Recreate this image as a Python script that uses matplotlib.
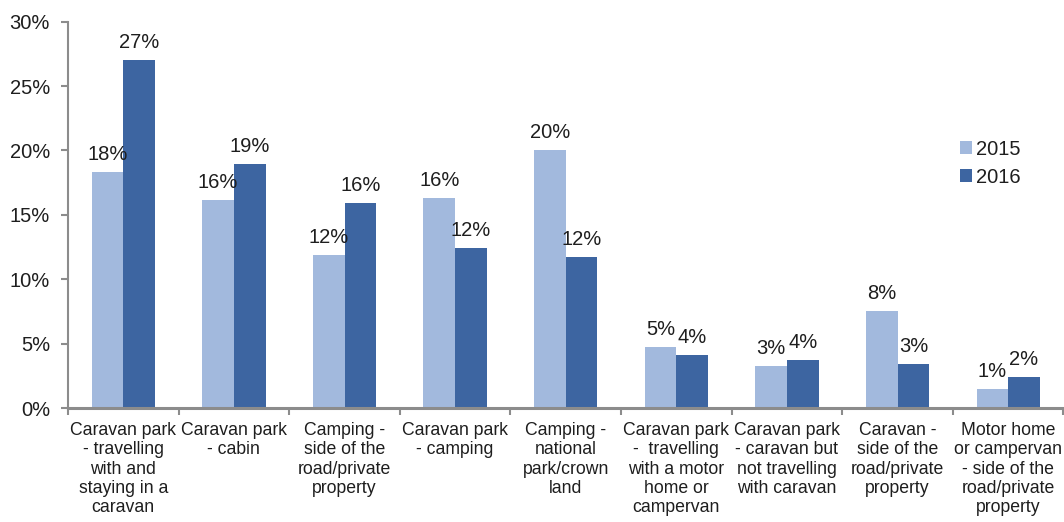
import matplotlib
matplotlib.use("Agg")
import matplotlib.pyplot as plt
import numpy as np
from matplotlib.ticker import FixedLocator, PercentFormatter

categories = [
    "Caravan park\n- travelling\nwith and\nstaying in a\ncaravan",
    "Caravan park\n- cabin",
    "Camping -\nside of the\nroad/private\nproperty",
    "Caravan park\n- camping",
    "Camping -\nnational\npark/crown\nland",
    "Caravan park\n-  travelling\nwith a motor\nhome or\ncampervan",
    "Caravan park\n- caravan but\nnot travelling\nwith caravan",
    "Caravan -\nside of the\nroad/private\nproperty",
    "Motor home\nor campervan\n- side of the\nroad/private\nproperty",
]
series_names = ["2015", "2016"]
values_2015 = [18.3, 16.15, 11.85, 16.3, 20.0, 4.7, 3.3, 7.5, 1.5]
values_2016 = [27.05, 18.95, 15.9, 12.4, 11.75, 4.15, 3.75, 3.4, 2.4]
labels_2015 = ["18%", "16%", "12%", "16%", "20%", "5%", "3%", "8%", "1%"]
labels_2016 = ["27%", "19%", "16%", "12%", "12%", "4%", "4%", "3%", "2%"]
yticks = [0, 5, 10, 15, 20, 25, 30]

colors = ["#A2B9DD", "#3D65A1"]
text_color = "#1e1e1e"
axis_color = "#8c8c8c"

plt.rcParams["font.family"] = ["Liberation Sans", "DejaVu Sans"]

fig = plt.figure(figsize=(10.64, 5.22), dpi=100)
ax = fig.add_axes([68 / 1064, 114 / 522, 1 - 68 / 1064 - 0.0005, (408 - 21.7) / 522])

x = np.arange(len(categories))
w = 0.286
series = [values_2015, values_2016]
series_labels = [labels_2015, labels_2016]
for i, (name, vals, labs) in enumerate(zip(series_names, series, series_labels)):
    offs = (i - 0.5) * w
    bars = ax.bar(x + offs, vals, width=w, color=colors[i], label=name, zorder=2)
    for b, v, lab in zip(bars, vals, labs):
        ax.annotate(lab, (b.get_x() + b.get_width() / 2, v),
                    xytext=(0, 8), textcoords="offset pixels",
                    ha="center", va="bottom", fontsize=14.5, color=text_color)

ax.set_xlim(-0.5, len(categories) - 0.5)
ax.set_ylim(0, 30)
ax.yaxis.set_major_locator(FixedLocator(yticks))
ax.yaxis.set_major_formatter(PercentFormatter(decimals=0))
ax.tick_params(axis="y", labelsize=14.5, labelcolor=text_color, color=axis_color,
               length=5, width=1.5, direction="out", pad=8)

ax.set_xticks(x)
ax.set_xticklabels([])
ax.tick_params(axis="x", which="major", length=0)
ax.xaxis.set_minor_locator(FixedLocator(np.arange(-0.5, len(categories), 1.0)))
ax.tick_params(axis="x", which="minor", length=5, width=1.5, color=axis_color, direction="out")

trans = matplotlib.transforms.blended_transform_factory(ax.transData, ax.transAxes)
for xi, lab in zip(x, categories):
    ax.text(xi, -0.036, lab, transform=trans, ha="center", va="top",
            fontsize=12.7, color=text_color, linespacing=1.18)

for s in ["top", "right"]:
    ax.spines[s].set_visible(False)
ax.spines["left"].set_color(axis_color)
ax.spines["left"].set_linewidth(1.5)
ax.spines["bottom"].set_color(axis_color)
ax.spines["bottom"].set_linewidth(2.2)

leg = ax.legend(loc="upper left", bbox_to_anchor=(0.888, 0.715),
                frameon=False, fontsize=14.5, handlelength=0.6, handleheight=0.6,
                handletextpad=0.2, labelspacing=0.45, borderaxespad=0)
for t in leg.get_texts():
    t.set_color(text_color)

fig.savefig("out.png", dpi=100)
